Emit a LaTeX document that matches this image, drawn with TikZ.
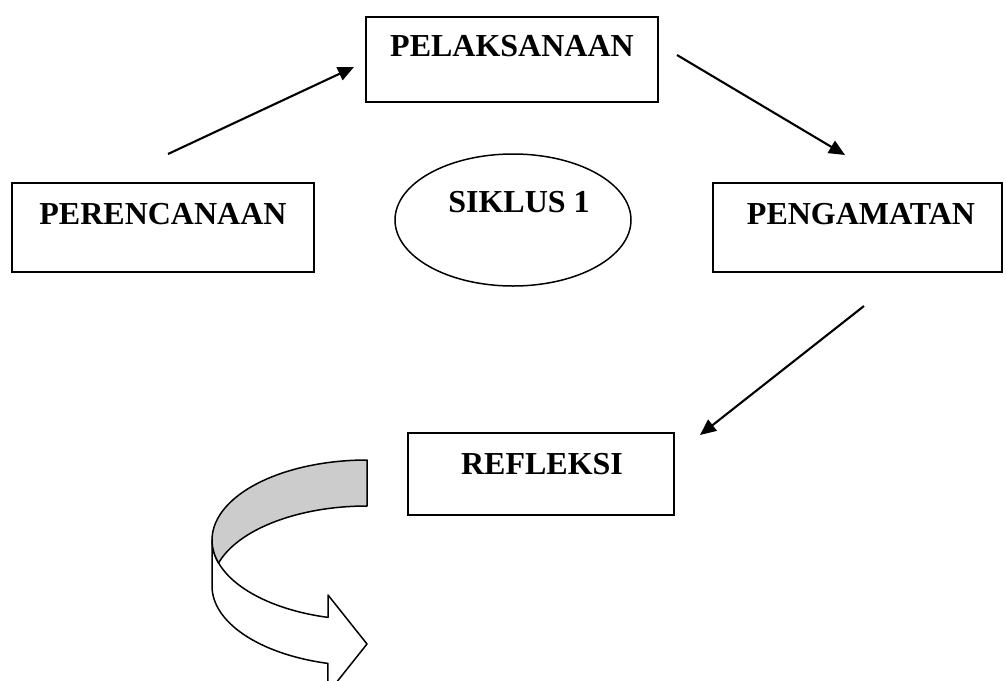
\documentclass[tikz,border=0pt]{standalone}
\usepackage{fontspec}
\setmainfont{Liberation Serif}
\usetikzlibrary{arrows.meta}
\begin{document}
\begin{tikzpicture}[x=1pt,y=1pt,
  box/.style={draw=black, line width=1.8pt, inner sep=0pt},
  lbl/.style={font=\fontsize{32}{36}\selectfont\bfseries, inner sep=0pt, anchor=base},
  conn/.style={line width=2.1pt, -{Triangle[length=16pt,width=14pt]}},
  ribbon/.style={draw=black, line width=1.5pt, line join=round}]
\clip (0,0) rectangle (1006,-680);
\fill[white] (0,0) rectangle (1006,-680);
% boxes
\node[box, minimum width=292pt, minimum height=85pt] (pel) at (512,-59.5) {};
\node[lbl] (pelT) at (512,-56.7) {PELAKSANAAN};
\node[box, minimum width=302pt, minimum height=89pt] (per) at (163,-227.5) {};
\node[lbl] (perT) at (163,-224) {PERENCANAAN};
\node[box, minimum width=289pt, minimum height=89pt] (pen) at (857.5,-227.5) {};
\node[lbl] (penT) at (861,-224) {PENGAMATAN};
\node[box, minimum width=266pt, minimum height=82pt] (ref) at (541,-474) {};
\node[lbl] (refT) at (542,-474) {REFLEKSI};
% ellipse
\draw[line width=1.5pt] (513,-220) ellipse [x radius=118, y radius=66];
\node[lbl] (sikT) at (519,-212) {SIKLUS 1};
% arrows
\coordinate (a1s) at (168,-154); \coordinate (a1e) at (354,-67);
\coordinate (a2s) at (677,-55); \coordinate (a2e) at (845,-155);
\coordinate (a3s) at (864,-306); \coordinate (a3e) at (700,-435);
\draw[conn] (a1s) -- (a1e);
\draw[conn] (a2s) -- (a2e);
\draw[conn] (a3s) -- (a3e);
% curved ribbon arrow
\draw[ribbon, fill=white] (212,-540) -- (212,-586)
  arc[start angle=180, end angle=255.4, x radius=155, y radius=80]
  -- (328,-693) -- (367,-644) -- (328,-595) -- (328,-617.4)
  arc[start angle=255.4, end angle=180, x radius=155, y radius=80] -- cycle;
\draw[ribbon, fill=black!20] (367,-460)
  arc[start angle=90, end angle=196.71, x radius=155, y radius=80]
  arc[start angle=163.29, end angle=90, x radius=155, y radius=80] -- cycle;
\end{tikzpicture}
\end{document}
